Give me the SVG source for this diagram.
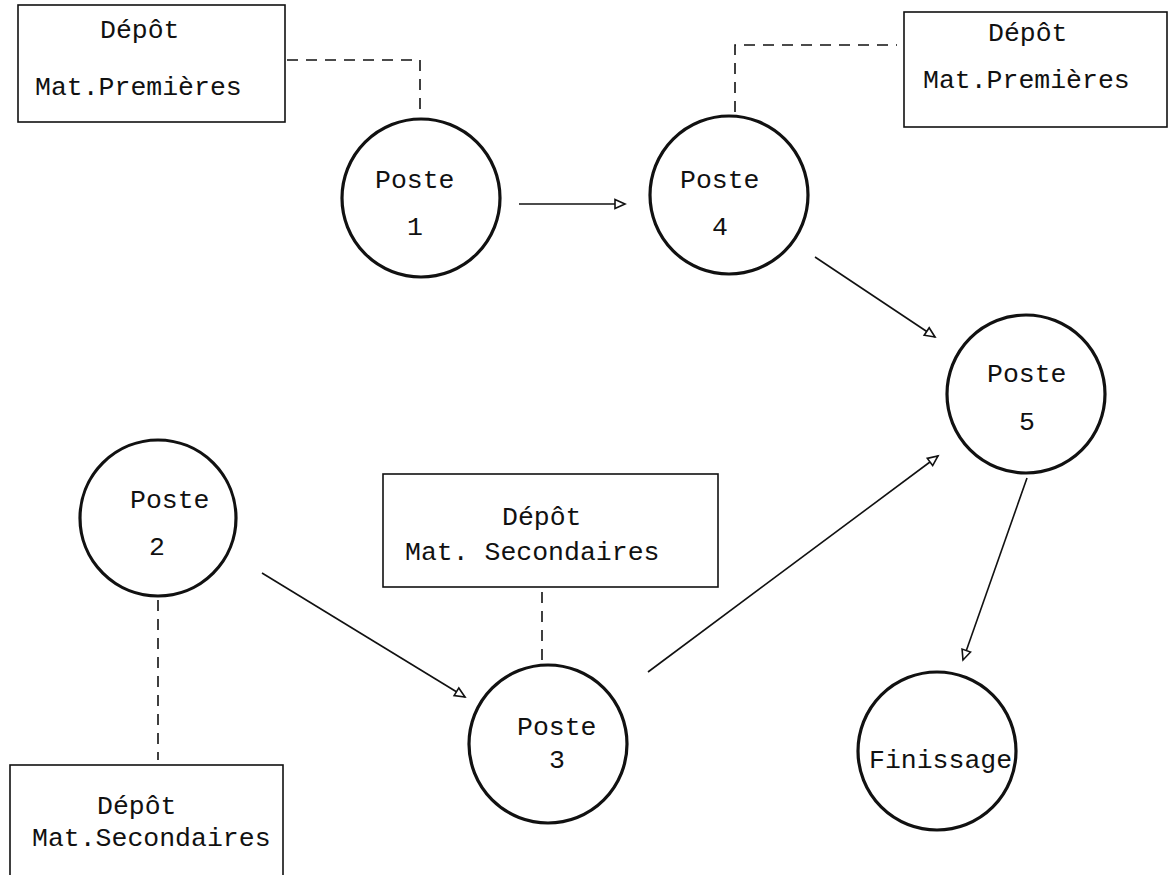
<svg xmlns="http://www.w3.org/2000/svg" width="1170" height="875" viewBox="0 0 1170 875">
<style>
text{font-family:"Liberation Mono","Courier New",monospace;font-size:26.5px;fill:#111}
.c{fill:#fff;stroke:#111;stroke-width:3.2}
.b{fill:#fff;stroke:#111;stroke-width:1.6}
.d{fill:none;stroke:#111;stroke-width:1.6;stroke-dasharray:11 8}
.a{fill:none;stroke:#111;stroke-width:1.6;marker-end:url(#ah)}
.m{text-anchor:middle}
</style>
<defs>
<marker id="ah" markerUnits="userSpaceOnUse" markerWidth="14" markerHeight="12" refX="11" refY="5" orient="auto" overflow="visible">
<path d="M1,0.5 L11,5 L1,9.5 Z" fill="#fff" stroke="#111" stroke-width="1.6"/>
</marker>
</defs>
<rect width="1170" height="875" fill="#fff"/>
<g id="connectors">
<path class="d" d="M287,60 H420 V112"/>
<path class="d" d="M735,112 V45 H897"/>
<path class="d" d="M158,600 V760"/>
<path class="d" d="M542,592 V662"/>
<line class="a" x1="519" y1="204" x2="625" y2="204"/>
<line class="a" x1="815" y1="257" x2="935" y2="337"/>
<line class="a" x1="262" y1="573" x2="465" y2="697"/>
<line class="a" x1="648" y1="672" x2="938" y2="456"/>
<line class="a" x1="1027" y1="478" x2="963" y2="660"/>
</g>
<g id="depot-tl">
<rect class="b" x="18" y="5" width="267" height="117"/>
<text x="100" y="38">Dépôt</text>
<text x="35" y="95">Mat.Premières</text>
</g>
<g id="depot-tr">
<rect class="b" x="904" y="12" width="263" height="115"/>
<text x="988" y="41">Dépôt</text>
<text x="923" y="88">Mat.Premières</text>
</g>
<g id="depot-mid">
<rect class="b" x="383" y="474" width="335" height="113"/>
<text x="502" y="525">Dépôt</text>
<text x="405" y="560">Mat. Secondaires</text>
</g>
<g id="depot-bl">
<rect class="b" x="10" y="765" width="273" height="125"/>
<text x="97" y="814">Dépôt</text>
<text x="32" y="846">Mat.Secondaires</text>
</g>
<g id="poste1">
<circle class="c" cx="421" cy="198" r="79"/>
<text x="375" y="188">Poste</text>
<text class="m" x="415" y="235">1</text>
</g>
<g id="poste4">
<circle class="c" cx="729" cy="195" r="79"/>
<text x="680" y="188">Poste</text>
<text class="m" x="720" y="235">4</text>
</g>
<g id="poste5">
<circle class="c" cx="1026" cy="394" r="79"/>
<text x="987" y="382">Poste</text>
<text class="m" x="1027" y="430">5</text>
</g>
<g id="poste2">
<circle class="c" cx="158" cy="518" r="78"/>
<text x="130" y="508">Poste</text>
<text class="m" x="157" y="555">2</text>
</g>
<g id="poste3">
<circle class="c" cx="548" cy="744" r="79"/>
<text x="517" y="735">Poste</text>
<text class="m" x="557" y="768">3</text>
</g>
<g id="finissage">
<circle class="c" cx="937" cy="751" r="79"/>
<text x="869" y="768">Finissage</text>
</g>
</svg>
